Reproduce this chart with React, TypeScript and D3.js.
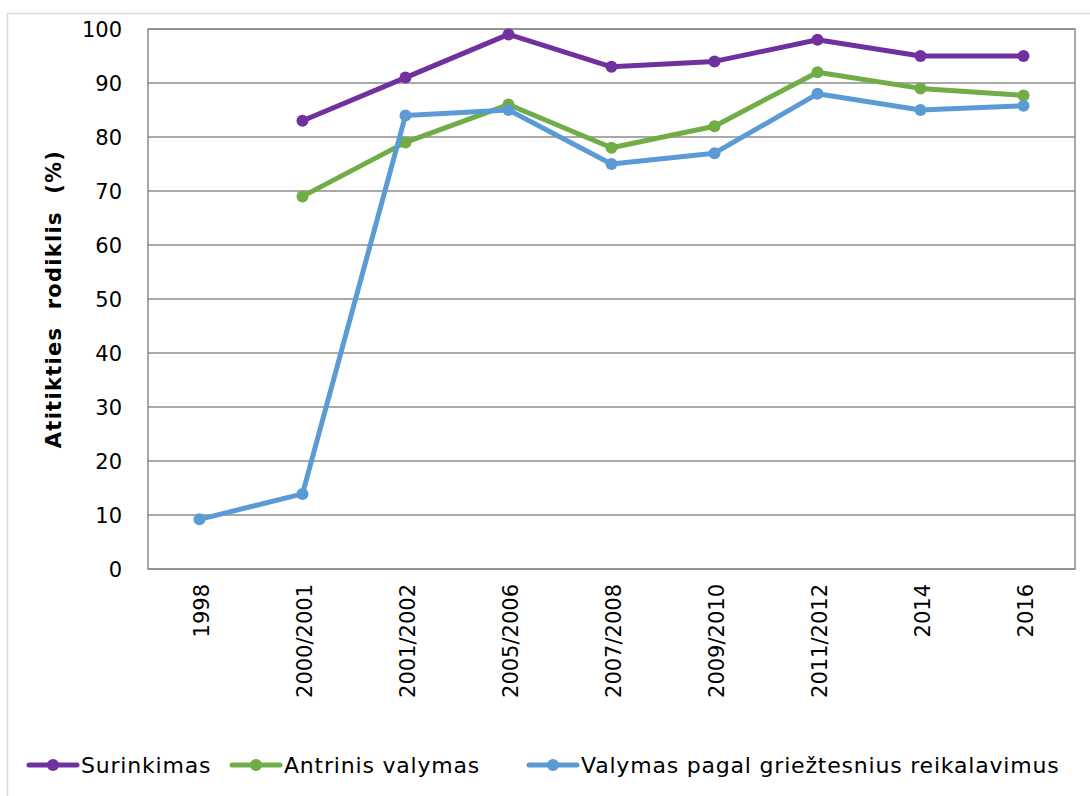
import React, { useEffect, useRef } from 'react';
import * as d3 from 'd3';

const categories = ['1998', '2000/2001', '2001/2002', '2005/2006', '2007/2008', '2009/2010', '2011/2012', '2014', '2016'];
const surinkimas = [null, 83, 91, 99, 93, 94, 98, 95, 95];
const antrinis = [null, 69, 79, 86, 78, 82, 92, 89, 87.7];
const grieztesnius = [9.2, 13.9, 84, 85, 75, 77, 88, 85, 85.8];
const yTicks = [0, 10, 20, 30, 40, 50, 60, 70, 80, 90, 100];

const series = [
  { name: 'Surinkimas', values: surinkimas, color: '#7030A0', legendX: 29 },
  { name: 'Antrinis valymas', values: antrinis, color: '#70AD47', legendX: 232 },
  { name: 'Valymas pagal griežtesnius reikalavimus', values: grieztesnius, color: '#5B9BD5', legendX: 529 },
];

const App = () => {
  const svgRef = useRef<SVGSVGElement>(null);

  useEffect(() => {
    const svg = d3.select(svgRef.current);
    svg.selectAll('*').remove();

    const left = 148, right = 1075, top = 29, bottom = 569;
    const font = '"DejaVu Sans", Verdana, sans-serif';

    // chart area border
    svg.append('path')
      .attr('d', 'M7.5,900 V13.5 H1200')
      .attr('fill', 'none')
      .attr('stroke', '#d9d9d9')
      .attr('stroke-width', 1.5);

    const x = d3.scaleBand().domain(categories).range([left, right]);
    const y = d3.scaleLinear().domain([0, 100]).range([bottom, top]);

    // gridlines
    svg.append('g')
      .selectAll('line')
      .data(yTicks)
      .enter()
      .append('line')
        .attr('x1', left)
        .attr('x2', right)
        .attr('y1', d => y(d))
        .attr('y2', d => y(d))
        .attr('stroke', '#8c8c8c')
        .attr('stroke-width', 1.5);

    // plot frame
    svg.append('rect')
      .attr('x', left)
      .attr('y', top)
      .attr('width', right - left)
      .attr('height', bottom - top)
      .attr('fill', 'none')
      .attr('stroke', '#8c8c8c')
      .attr('stroke-width', 1.5);

    // y tick labels
    svg.append('g')
      .selectAll('text')
      .data(yTicks)
      .enter()
      .append('text')
        .attr('x', 122)
        .attr('y', d => y(d))
        .attr('dy', '0.36em')
        .attr('text-anchor', 'end')
        .style('font-family', font)
        .style('font-size', '21px')
        .attr('fill', '#000')
        .text(d => d);

    // x tick labels
    svg.append('g')
      .selectAll('text')
      .data(categories)
      .enter()
      .append('text')
        .attr('transform', d => `translate(${x(d)! + x.bandwidth() / 2 + 9},584) rotate(-90)`)
        .attr('text-anchor', 'end')
        .style('font-family', font)
        .style('font-size', '21px')
        .attr('fill', '#000')
        .text(d => d);

    // y axis title
    svg.append('text')
      .attr('transform', `translate(61,${(top + bottom) / 2}) rotate(-90)`)
      .attr('text-anchor', 'middle')
      .style('font-family', font)
      .style('font-size', '21px')
      .style('font-weight', 'bold')
      .style('letter-spacing', '1.3px')
      .style('white-space', 'pre')
      .attr('fill', '#000')
      .text('Atitikties  rodiklis  (%)');

    const line = d3.line<number | null>()
      .defined(d => d !== null)
      .x((d, i) => x(categories[i])! + x.bandwidth() / 2)
      .y(d => y(d as number));

    series.forEach(s => {
      svg.append('path')
        .datum(s.values)
        .attr('d', line)
        .attr('fill', 'none')
        .attr('stroke', s.color)
        .attr('stroke-width', 5)
        .attr('stroke-linejoin', 'round');

      svg.append('g')
        .selectAll('circle')
        .data(s.values.map((v, i) => ({ v, i })).filter(d => d.v !== null))
        .enter()
        .append('circle')
          .attr('cx', d => x(categories[d.i])! + x.bandwidth() / 2)
          .attr('cy', d => y(d.v as number))
          .attr('r', 6)
          .attr('fill', s.color);

      // legend
      const ly = 765;
      svg.append('line')
        .attr('x1', s.legendX)
        .attr('x2', s.legendX + 48)
        .attr('y1', ly)
        .attr('y2', ly)
        .attr('stroke', s.color)
        .attr('stroke-width', 5)
        .attr('stroke-linecap', 'round');
      svg.append('circle')
        .attr('cx', s.legendX + 24)
        .attr('cy', ly)
        .attr('r', 6)
        .attr('fill', s.color);
      svg.append('text')
        .attr('x', s.legendX + 52)
        .attr('y', ly)
        .attr('dy', '0.36em')
        .style('font-family', font)
        .style('font-size', '22px')
        .style('letter-spacing', '0.8px')
        .attr('fill', '#000')
        .text(s.name);
    });
  }, []);

  return (
    <svg ref={svgRef} width={1090} height={796}
      style={{ position: 'absolute', left: 0, top: 0, background: '#fff' }} />
  );
};

export default App;
